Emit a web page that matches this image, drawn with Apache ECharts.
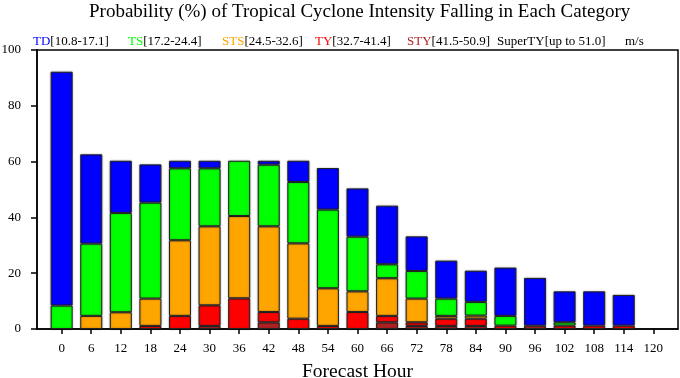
<!DOCTYPE html>
<html>
<head>
<meta charset="utf-8">
<script src="https://cdn.jsdelivr.net/npm/echarts@6/dist/echarts.min.js"></script>
<style>html,body{margin:0;padding:0;background:#fff}#c{width:680px;height:378px}</style>
</head>
<body>
<div id="c"></div>
<script>
// Forecast hours (x categories)
const hours = [0, 6, 12, 18, 24, 30, 36, 42, 48, 54, 60, 66, 72, 78, 84, 90, 96, 102, 108, 114, 120];
// Probability (%) per category, stacked bottom-to-top: STY, TY, STS, TS, TD
const styVals = [0, 0, 0, 0, 0, 1.1, 0, 2.4, 0, 0, 0, 2.4, 1.1, 1.1, 1.1, 0, 1.2, 0, 0, 0, 0];
const tyVals  = [0, 0, 0, 1.1, 4.7, 7.4, 11.0, 3.7, 3.7, 1.1, 6.1, 2.3, 1.3, 2.6, 2.6, 1.2, 0, 1.2, 1.2, 1.2, 0];
const stsVals = [0, 4.7, 6.0, 9.8, 27.1, 28.3, 29.5, 30.7, 27.0, 13.5, 7.4, 13.5, 8.5, 1.0, 1.1, 0, 0, 0, 0, 0, 0];
const tsVals  = [8.4, 25.9, 35.6, 34.4, 25.8, 20.8, 19.8, 22.1, 22.0, 28.2, 19.6, 5.0, 9.9, 6.2, 4.9, 3.5, 0, 1.2, 0, 0, 0];
const tdVals  = [83.8, 32.0, 18.7, 13.7, 2.7, 2.7, 0, 1.4, 7.6, 14.9, 17.3, 21.0, 12.4, 13.6, 11.2, 17.3, 17.1, 11.1, 12.3, 11.0, 0];
const superVals = [0, 0, 0, 0, 0, 0, 0, 0, 0, 0, 0, 0, 0, 0, 0, 0, 0, 0, 0, 0, 0];
// Legend names and ranges
const catNames = ['TD', 'TS', 'STS', 'TY', 'STY', 'SuperTY'];
const catRanges = ['[10.8-17.1]', '[17.2-24.4]', '[24.5-32.6]', '[32.7-41.4]', '[41.5-50.9]', '[up to 51.0]'];
const catColors = ['#0000ff', '#00ff00', '#ffa500', '#ff0000', '#b22222', '#000000'];
const yTicks = [0, 20, 40, 60, 80, 100];

const FONT = '"Liberation Serif", "DejaVu Serif", serif';
const legendLeft = [22, 117, 211, 304, 396, 486];
const chart = echarts.init(document.getElementById('c'), null, {renderer: 'canvas'});

const seriesDefs = [
  ['STY', styVals, catColors[4]],
  ['TY', tyVals, catColors[3]],
  ['STS', stsVals, catColors[2]],
  ['TS', tsVals, catColors[1]],
  ['TD', tdVals, catColors[0]],
  ['SuperTY', superVals, catColors[5]]
];

const rich = {k: {color: '#000', fontFamily: FONT, fontSize: 13}};
catNames.forEach((n, i) => { rich['c' + i] = {color: catColors[i], fontFamily: FONT, fontSize: 13}; });

chart.setOption({
  animation: false,
  title: {
    text: 'Probability (%) of Tropical Cyclone Intensity Falling in Each Category',
    left: 84, top: -2,
    textStyle: {fontFamily: FONT, fontSize: 19, fontWeight: 'normal', color: '#000'}
  },
  legend: catNames.map((n, i) => ({
    data: [n],
    left: legendLeft[i], top: 30,
    icon: 'rect', itemWidth: 0, itemHeight: 0, itemGap: 0,
    selectedMode: false,
    formatter: function (name) {
      const j = catNames.indexOf(name);
      return '{c' + j + '|' + name + '}{k|' + catRanges[j] + '}';
    },
    textStyle: {fontFamily: FONT, fontSize: 13, rich: rich}
  })),
  graphic: [{
    type: 'text', left: 625, top: 35,
    style: {text: 'm/s', fontFamily: FONT, fontSize: 13, fill: '#000'}
  }],
  grid: {left: 37, right: 2, top: 50, bottom: 49, outerBoundsMode: 'none',
    show: true, borderColor: '#000', borderWidth: 1.5, backgroundColor: 'transparent'},
  xAxis: {
    type: 'value', min: -5, max: 125,
    name: 'Forecast Hour', nameLocation: 'middle', nameGap: 33,
    nameTextStyle: {fontFamily: FONT, fontSize: 19.5, color: '#000'},
    axisLine: {show: true, onZero: false, lineStyle: {color: '#000', width: 1.5}},
    axisTick: {show: true, length: 5, customValues: hours, lineStyle: {color: '#000', width: 1.5}},
    axisLabel: {customValues: hours, margin: 13, fontFamily: FONT, fontSize: 13, color: '#000'},
    splitLine: {show: false}
  },
  yAxis: {
    type: 'value', min: 0, max: 100, interval: 20,
    axisLine: {show: true, onZero: false, lineStyle: {color: '#000', width: 1.5}},
    axisTick: {show: true, length: 6, lineStyle: {color: '#000', width: 1.5}},
    axisLabel: {margin: 16, fontFamily: FONT, fontSize: 13, color: '#000',
      customValues: yTicks},
    splitLine: {show: false}
  },
  series: seriesDefs.map(([name, vals, color]) => ({
    name: name,
    type: 'bar',
    stack: 'p',
    barWidth: 22,
    // value first so the stacked dimension is the probability, hour second
    dimensions: ['prob', 'hour'],
    encode: {x: 'hour', y: 'prob'},
    data: hours.map((h, i) => [vals[i] === 0 ? '-' : vals[i], h]),
    itemStyle: {color: color, borderColor: '#222', borderWidth: 1,
      shadowColor: 'rgba(0,0,0,0.35)', shadowBlur: 2}
  }))
});
</script>
</body>
</html>
